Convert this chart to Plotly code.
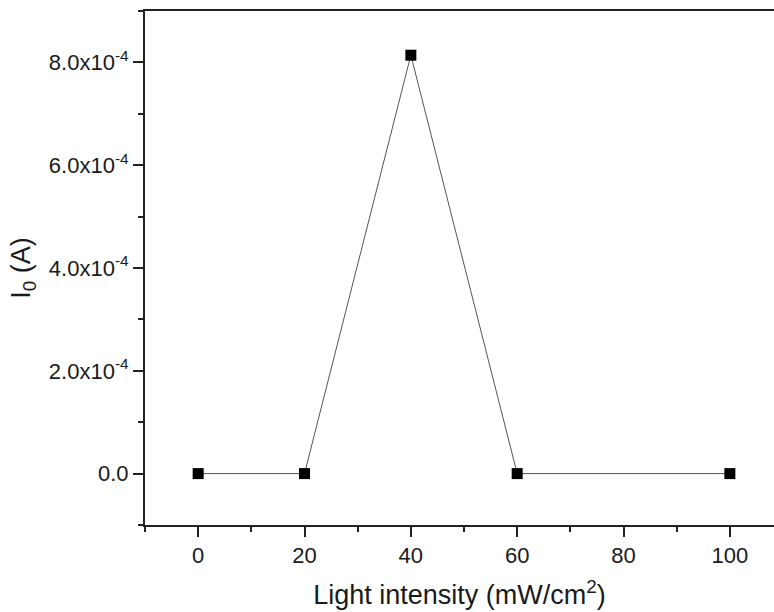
import plotly.graph_objects as go

x_vals = [0, 20, 40, 60, 100]
y_vals = [0.0, 0.0, 8.14e-4, 0.0, 0.0]
y_tickvals = [0, 2e-4, 4e-4, 6e-4, 8e-4]
y_ticktext = ["0.0", "2.0x10<sup>-4</sup>", "4.0x10<sup>-4</sup>", "6.0x10<sup>-4</sup>", "8.0x10<sup>-4</sup>"]
x_tickvals = [0, 20, 40, 60, 80, 100]

fig = go.Figure()
fig.add_trace(go.Scatter(
    x=x_vals, y=y_vals, mode="lines+markers",
    line=dict(color="#555555", width=1),
    marker=dict(symbol="square", size=11, color="black"),
    showlegend=False,
))

font = "Liberation Sans, Arial, sans-serif"
fig.update_layout(
    width=774, height=612,
    margin=dict(l=145, r=0, t=11, b=87),
    paper_bgcolor="white", plot_bgcolor="white",
    font=dict(family=font, color="#1a1a1a"),
    xaxis=dict(
        range=[-10, 108.3], tickvals=x_tickvals,
        ticks="outside", ticklen=10, tickwidth=2, tickcolor="#222",
        minor=dict(dtick=10, tick0=0, ticks="outside", ticklen=5, tickwidth=2, tickcolor="#222"),
        showline=True, linewidth=2, linecolor="#222", mirror=True,
        showgrid=False, zeroline=False,
        tickfont=dict(size=22),
        title=dict(text="Light intensity (mW/cm<sup>2</sup>)", font=dict(size=27), standoff=18),
    ),
    yaxis=dict(
        range=[-1e-4, 9e-4], tickvals=y_tickvals, ticktext=y_ticktext,
        ticks="outside", ticklen=10, tickwidth=2, tickcolor="#222",
        minor=dict(dtick=1e-4, tick0=0, ticks="outside", ticklen=5, tickwidth=2, tickcolor="#222"),
        showline=True, linewidth=2, linecolor="#222", mirror=False,
        showgrid=False, zeroline=False,
        tickfont=dict(size=22),
        title=dict(text="I<sub>0</sub> (A)", font=dict(size=27), standoff=10),
    ),
)

fig.write_html(
    "out.html",
    config={"displayModeBar": False},
    post_script="document.body.style.margin='0';document.body.style.overflow='hidden';document.documentElement.style.overflow='hidden';",
)
